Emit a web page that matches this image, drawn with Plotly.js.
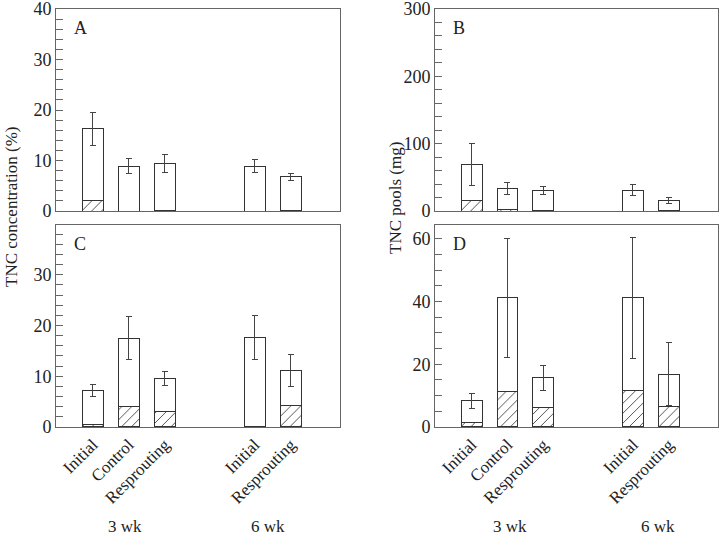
<!DOCTYPE html>
<html>
<head>
<meta charset="utf-8">
<script src="https://cdn.plot.ly/plotly-3.0.1.min.js"></script>
<style>
  body { margin: 0; background: #fff; }
  #chart { width: 720px; height: 539px; }
</style>
</head>
<body>
<div id="chart"></div>
<script>
// Data
const treatments = ['Initial', 'Control', 'Resprouting', 'Initial', 'Resprouting'];
const weeks = ['3 wk', '6 wk'];

// A: TNC concentration (%), top row
const concA_total = [16.3, 8.9, 9.4, 8.9, 6.8];
const concA_hatch = [2.1, 0, 0.2, 0, 0.2];
const concA_err = [3.3, 1.5, 1.8, 1.25, 0.7];

// B: TNC pools (mg), top row
const poolB_total = [69, 33, 31, 31, 16];
const poolB_hatch = [15, 3, 1, 0, 1];
const poolB_err = [31.5, 9, 6, 8, 4.5];

// C: TNC concentration (%), bottom row
const concC_total = [7.2, 17.5, 9.5, 17.6, 11.1];
const concC_hatch = [0.5, 3.95, 3.15, 0, 4.2];
const concC_err = [1.15, 4.2, 1.35, 4.4, 3.1];

// D: TNC pools (mg), bottom row
const poolD_total = [8.3, 41.2, 15.7, 41.2, 16.8];
const poolD_hatch = [1.4, 11.3, 6.2, 11.6, 6.5];
const poolD_err = [2.45, 19, 4, 19.3, 10.05];

// bar slots on the x axis (gap between 3 wk and 6 wk groups)
const slots = [1, 2, 3, 5.5, 6.5];
const font = 'Liberation Serif';
const edge = '#333';
const frame = '#666';
const ink = '#222';

function pair(total, hatch, err, xa, ya) {
  return [
    {
      x: slots, y: hatch, type: 'bar', xaxis: xa, yaxis: ya, width: 0.58,
      marker: {
        color: 'white',
        line: { color: edge, width: 1 },
        pattern: { shape: '/', fgcolor: '#333', bgcolor: 'white', size: 7, solidity: 0.12 }
      },
      hoverinfo: 'y'
    },
    {
      x: slots, y: total.map((t, i) => t - hatch[i]), type: 'bar', xaxis: xa, yaxis: ya, width: 0.58,
      marker: { color: 'white', line: { color: edge, width: 1 } },
      error_y: { type: 'data', array: err, color: '#444', thickness: 1, width: 3 },
      customdata: total,
      hovertemplate: '%{customdata}<extra></extra>'
    }
  ];
}

const traces = [
  ...pair(concA_total, concA_hatch, concA_err, 'x', 'y'),
  ...pair(poolB_total, poolB_hatch, poolB_err, 'x2', 'y2'),
  ...pair(concC_total, concC_hatch, concC_err, 'x3', 'y3'),
  ...pair(poolD_total, poolD_hatch, poolD_err, 'x4', 'y4')
];

function xAx(domain, showLabels, anchor) {
  return {
    domain: domain, range: [-0.02, 7.87], anchor: anchor,
    showline: true, mirror: true, linecolor: frame, linewidth: 1,
    showgrid: false, zeroline: false, ticks: '',
    tickmode: 'array', tickvals: slots, ticktext: treatments,
    showticklabels: showLabels, tickangle: -45,
    tickfont: { family: font, size: 17, color: ink }
  };
}

function yAx(domain, range, dtick, minor, anchor) {
  return {
    domain: domain, range: range, anchor: anchor,
    showline: true, mirror: true, linecolor: frame, linewidth: 1,
    showgrid: false, zeroline: false,
    ticks: 'inside', ticklen: 7, tickcolor: frame, dtick: dtick,
    minor: { dtick: minor, ticks: 'inside', ticklen: 7, tickcolor: frame, showgrid: false },
    ticklabeloverflow: 'allow',
    tickfont: { family: font, size: 18, color: ink }
  };
}

const leftX = [0.0778, 0.4722];
const rightX = [0.6042, 0.9972];
const topY = [0.6085, 0.9833];
const botY = [0.2078, 0.5826];

function letter(t, xref, yref) {
  return {
    text: t, xref: xref + ' domain', yref: yref + ' domain', x: 0.055, y: 0.965,
    xanchor: 'left', yanchor: 'top', showarrow: false,
    font: { family: font, size: 18, color: ink }
  };
}

function wk(t, x) {
  return {
    text: t, xref: 'paper', yref: 'paper', x: x, y: 0.024,
    xanchor: 'center', yanchor: 'middle', showarrow: false,
    font: { family: font, size: 17, color: ink }
  };
}

const layout = {
  width: 720, height: 539,
  margin: { l: 0, r: 0, t: 0, b: 0 },
  paper_bgcolor: 'white', plot_bgcolor: 'white',
  barmode: 'stack', showlegend: false,
  xaxis: xAx(leftX, false, 'y'),
  xaxis2: xAx(rightX, false, 'y2'),
  xaxis3: xAx(leftX, true, 'y3'),
  xaxis4: xAx(rightX, true, 'y4'),
  yaxis: yAx(topY, [0, 40], 10, 2, 'x'),
  yaxis2: yAx(topY, [0, 300], 100, 20, 'x2'),
  yaxis3: yAx(botY, [0, 39.8], 10, 2, 'x3'),
  yaxis4: yAx(botY, [0, 64.4], 20, 5, 'x4'),
  annotations: [
    letter('A', 'x', 'y'), letter('B', 'x2', 'y2'),
    letter('C', 'x3', 'y3'), letter('D', 'x4', 'y4'),
    wk(weeks[0], 125 / 720), wk(weeks[1], 268 / 720),
    wk(weeks[0], 510 / 720), wk(weeks[1], 658 / 720),
    {
      text: 'TNC concentration (%)', xref: 'paper', yref: 'paper',
      x: 12 / 720, y: 1 - 207 / 539, textangle: -90, showarrow: false,
      xanchor: 'center', yanchor: 'middle', font: { family: font, size: 17, color: ink }
    },
    {
      text: 'TNC pools (mg)', xref: 'paper', yref: 'paper',
      x: 396 / 720, y: 1 - 198 / 539, textangle: -90, showarrow: false,
      xanchor: 'center', yanchor: 'middle', font: { family: font, size: 17, color: ink }
    }
  ]
};

Plotly.newPlot('chart', traces, layout, { staticPlot: true });
</script>
</body>
</html>
